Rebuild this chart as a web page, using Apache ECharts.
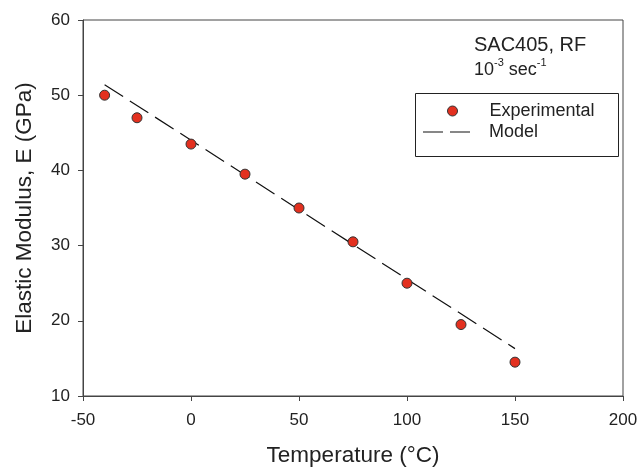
<!DOCTYPE html>
<html>
<head>
<meta charset="utf-8">
<script src="https://cdn.jsdelivr.net/npm/echarts@6/dist/echarts.min.js"></script>
<style>html,body{margin:0;padding:0;background:#fff}#c{width:641px;height:472px}</style>
</head>
<body>
<div id="c"></div>
<script>
var temps = [-40, -25, 0, 25, 50, 75, 100, 125, 150];
var modulus = [50, 47, 43.5, 39.5, 35, 30.5, 25, 19.5, 14.5];
var modelX = [-40, 150];
var modelY = [51.4, 16.3];
var xTicks = [-50, 0, 50, 100, 150, 200];
var yTicks = [10, 20, 30, 40, 50, 60];

var F = '"Liberation Sans", Arial, Helvetica, sans-serif';
var chart = echarts.init(document.getElementById('c'), null, {renderer: 'canvas'});
var expData = temps.map(function (t, i) { return [t, modulus[i]]; });
var modelData = modelX.map(function (t, i) { return [t, modelY[i]]; });

var legendText = {fontFamily: F, fontSize: 18, color: '#222', lineHeight: 18};

chart.setOption({
  animation: false,
  backgroundColor: '#fff',
  grid: {left: 83, right: 18, top: 20, bottom: 75, show: true, borderColor: '#444', borderWidth: 1},
  xAxis: {
    type: 'value', min: xTicks[0], max: xTicks[xTicks.length - 1], interval: 50,
    name: 'Temperature (°C)', nameLocation: 'middle', nameGap: 48,
    nameTextStyle: {fontFamily: F, fontSize: 22.5, color: '#222'},
    axisLine: {show: true, onZero: false, lineStyle: {color: '#444', width: 1}},
    axisTick: {show: true, inside: false, length: 5, lineStyle: {color: '#444'}},
    axisLabel: {fontFamily: F, fontSize: 17, color: '#222', margin: 16},
    splitLine: {show: false}
  },
  yAxis: {
    type: 'value', min: yTicks[0], max: yTicks[yTicks.length - 1], interval: 10,
    name: 'Elastic Modulus, E (GPa)', nameLocation: 'middle', nameGap: 47,
    nameTextStyle: {fontFamily: F, fontSize: 22.5, color: '#222'},
    axisLine: {show: true, onZero: false, lineStyle: {color: '#444', width: 1}},
    axisTick: {show: true, inside: false, length: 5, lineStyle: {color: '#444'}},
    axisLabel: {fontFamily: F, fontSize: 17, color: '#222', margin: 13},
    splitLine: {show: false}
  },
  legend: [
    {
      orient: 'vertical', left: 447, top: 102, padding: 0,
      itemWidth: 10, itemHeight: 10,
      textStyle: Object.assign({padding: [0, 0, 0, 27]}, legendText),
      data: [{name: 'Experimental', icon: 'circle',
              itemStyle: {color: '#e3301f', borderColor: '#333', borderWidth: 1}}]
    },
    {
      orient: 'vertical', left: 423, top: 123, padding: 0,
      itemWidth: 47, itemHeight: 11,
      textStyle: Object.assign({padding: [0, 0, 0, 14]}, legendText),
      data: [{name: 'Model',
              icon: 'path://M0,0 M47,11 M0,5h20v1h-20z M27,5h20v1h-20z',
              itemStyle: {color: '#111', borderWidth: 0}}]
    }
  ],
  graphic: [
    {type: 'rect', left: 413, top: 91, shape: {width: 203, height: 63},
     style: {fill: 'none', stroke: '#222', lineWidth: 1}, silent: true, z: 10},
    {type: 'text', left: 474, top: 35,
     style: {text: 'SAC405, RF', fontFamily: F, fontSize: 20, fill: '#222'}},
    {type: 'text', left: 474, top: 57,
     style: {text: '{n|10}{s|-3}{n| sec}{s|-1}', fontFamily: F, fill: '#222',
       rich: {n: {fontSize: 18, fontFamily: F, fill: '#222', verticalAlign: 'bottom', lineHeight: 22},
              s: {fontSize: 11, fontFamily: F, fill: '#222', verticalAlign: 'top', lineHeight: 22}}}}
  ],
  series: [
    {name: 'Model', type: 'line', data: modelData, showSymbol: false, symbol: 'none',
     lineStyle: {color: '#111', width: 1.2, type: [22, 8]}, itemStyle: {color: '#111'}, z: 2},
    {name: 'Experimental', type: 'scatter', data: expData, symbol: 'circle', symbolSize: 10,
     itemStyle: {color: '#e3301f', borderColor: '#333', borderWidth: 1, opacity: 1}, z: 3}
  ]
});
</script>
</body>
</html>
